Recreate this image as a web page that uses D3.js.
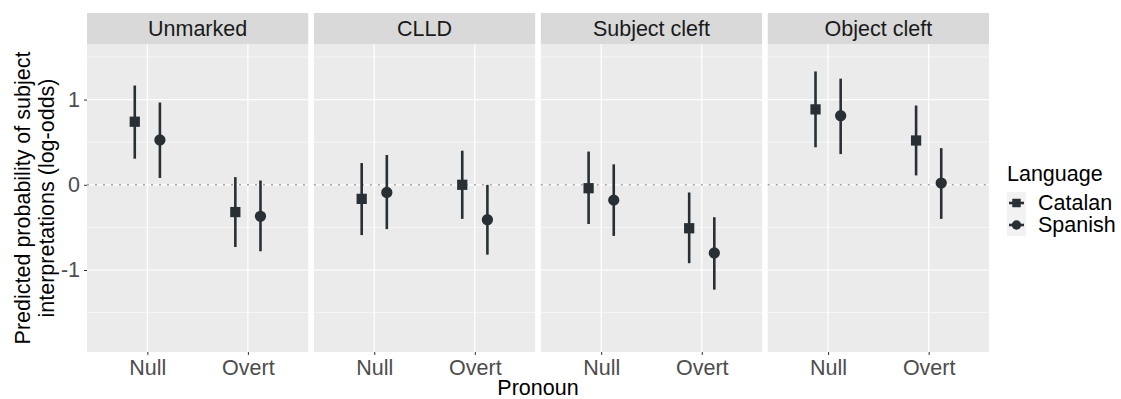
<!DOCTYPE html>
<html>
<head>
<meta charset="utf-8">
<script src="https://cdn.jsdelivr.net/npm/d3@7"></script>
<style>
  html, body { margin: 0; padding: 0; background: #fff; }
  text { font-family: "Liberation Sans", Arial, sans-serif; }
</style>
</head>
<body>
<svg id="chart" width="1121" height="399"></svg>
<script>
// ---- data ----
const facets = ["Unmarked", "CLLD", "Subject cleft", "Object cleft"];
const pronouns = ["Null", "Overt"];
const languages = ["Catalan", "Spanish"];
// values ordered facet by facet, Null then Overt
const catalanEst = [0.74, -0.32, -0.165, 0.0, -0.04, -0.51, 0.885, 0.52];
const catalanLo  = [0.306, -0.73, -0.59, -0.40, -0.46, -0.92, 0.44, 0.11];
const catalanHi  = [1.165, 0.09, 0.255, 0.40, 0.39, -0.09, 1.33, 0.93];
const spanishEst = [0.526, -0.37, -0.09, -0.41, -0.18, -0.80, 0.81, 0.02];
const spanishLo  = [0.08, -0.78, -0.52, -0.82, -0.60, -1.23, 0.36, -0.40];
const spanishHi  = [0.965, 0.05, 0.35, 0.0, 0.24, -0.38, 1.245, 0.43];
const yTicks = [-1, 0, 1];
const yMinor = [-1.5, -0.5, 0.5, 1.5];
const yTitleLines = ["Predicted probability of subject", "interpretations (log-odds)"];
const xTitle = "Pronoun";
const legendTitle = "Language";

const rows = [];
facets.forEach((f, fi) => {
  pronouns.forEach((p, pi) => {
    const i = fi * 2 + pi;
    rows.push({facet: f, pronoun: p, lang: "Catalan", est: catalanEst[i], lo: catalanLo[i], hi: catalanHi[i]});
    rows.push({facet: f, pronoun: p, lang: "Spanish", est: spanishEst[i], lo: spanishLo[i], hi: spanishHi[i]});
  });
});

// ---- layout ----
const svg = d3.select("#chart");
const plotLeft = 87, plotRight = 989;
const panelTop = 44, panelBottom = 352, stripTop = 13;
const fs = 21.5;
const ink = "#283035";

const fx = d3.scaleBand().domain(facets).range([plotLeft, plotRight]).paddingInner(0.025).paddingOuter(0);
const pw = fx.bandwidth();
const xs = d3.scalePoint().domain(pronouns).range([0, pw]).padding(0.6);
const step = xs.step();
const dodge = d3.scalePoint().domain(languages).range([-0.125 * step, 0.125 * step]);
const y = d3.scaleLinear().domain([-1.962, 1.652]).range([panelBottom, panelTop]);

facets.forEach(f => {
  const g = svg.append("g").attr("transform", `translate(${fx(f)},0)`);
  g.append("rect").attr("x", 0).attr("y", panelTop).attr("width", pw).attr("height", panelBottom - panelTop).attr("fill", "#EBEBEB");
  g.selectAll(".ymin").data(yMinor).join("line")
    .attr("x1", 0).attr("x2", pw).attr("y1", d => y(d)).attr("y2", d => y(d))
    .attr("stroke", "#fff").attr("stroke-width", 0.6);
  g.selectAll(".ymaj").data(yTicks).join("line")
    .attr("x1", 0).attr("x2", pw).attr("y1", d => y(d)).attr("y2", d => y(d))
    .attr("stroke", "#fff").attr("stroke-width", 1.2);
  g.selectAll(".xmaj").data(pronouns).join("line")
    .attr("x1", d => xs(d)).attr("x2", d => xs(d)).attr("y1", panelTop).attr("y2", panelBottom)
    .attr("stroke", "#fff").attr("stroke-width", 1.2);
  g.append("rect").attr("x", 0).attr("y", stripTop).attr("width", pw).attr("height", panelTop - stripTop).attr("fill", "#D9D9D9");
  g.append("text").attr("x", pw / 2).attr("y", 36).attr("text-anchor", "middle")
    .attr("font-size", fs).attr("fill", "#1A1A1A").text(f);
  g.append("line").attr("x1", 0).attr("x2", pw).attr("y1", y(0)).attr("y2", y(0))
    .attr("stroke", "#A6A6A6").attr("stroke-width", 1.6).attr("stroke-dasharray", "2 6");
  const xa = g.append("g").attr("transform", `translate(0,${panelBottom})`)
    .call(d3.axisBottom(xs).tickSize(3).tickPadding(4));
  xa.select(".domain").remove();
  xa.selectAll(".tick line").attr("stroke", "#333").attr("stroke-width", 1);
  xa.selectAll(".tick text").attr("font-size", fs).attr("fill", "#4D4D4D")
    .attr("font-family", "Liberation Sans, Arial, sans-serif").attr("dy", "0.76em");
  const data = rows.filter(r => r.facet === f);
  g.selectAll(".err").data(data).join("line")
    .attr("x1", d => xs(d.pronoun) + dodge(d.lang)).attr("x2", d => xs(d.pronoun) + dodge(d.lang))
    .attr("y1", d => y(d.lo)).attr("y2", d => y(d.hi))
    .attr("stroke", ink).attr("stroke-width", 2.6);
  const sq = d3.symbol().type(d3.symbolSquare).size(105);
  const ci = d3.symbol().type(d3.symbolCircle).size(100);
  g.selectAll(".pt").data(data).join("path")
    .attr("transform", d => `translate(${xs(d.pronoun) + dodge(d.lang)},${y(d.est)})`)
    .attr("d", d => d.lang === "Catalan" ? sq() : ci())
    .attr("fill", ink);
});

// y axis
const ya = svg.append("g").attr("transform", `translate(${plotLeft},0)`)
  .call(d3.axisLeft(y).tickValues(yTicks).tickSize(3).tickPadding(4)
    .tickFormat(d => (d < 0 ? "-" : "") + Math.abs(d)));
ya.select(".domain").remove();
ya.selectAll(".tick line").attr("stroke", "#333");
ya.selectAll(".tick text").attr("font-size", fs).attr("fill", "#4D4D4D")
  .attr("font-family", "Liberation Sans, Arial, sans-serif");

// y title
const yt = svg.append("g").attr("transform", `translate(30,${(panelTop + panelBottom) / 2}) rotate(-90)`);
yt.selectAll("text").data(yTitleLines).join("text")
  .attr("x", 0).attr("y", (d, i) => i * 24).attr("text-anchor", "middle")
  .attr("font-size", fs).attr("fill", "#000").text(d => d);

// x title
svg.append("text").attr("x", (plotLeft + plotRight) / 2).attr("y", 395).attr("text-anchor", "middle")
  .attr("font-size", fs).attr("fill", "#000").text(xTitle);

// legend
const lg = svg.append("g").attr("transform", "translate(1007,0)");
lg.append("text").attr("x", 0).attr("y", 181).attr("font-size", fs).attr("fill", "#000").text(legendTitle);
const keyY = d3.scalePoint().domain(languages).range([203, 225]);
languages.forEach(l => {
  const cy = keyY(l);
  lg.append("rect").attr("x", 0).attr("y", cy - 11).attr("width", 19).attr("height", 22).attr("fill", "#F2F2F2");
  lg.append("line").attr("x1", 2).attr("x2", 17).attr("y1", cy).attr("y2", cy).attr("stroke", ink).attr("stroke-width", 2.6);
  lg.append("path").attr("transform", `translate(9.5,${cy})`)
    .attr("d", d3.symbol().type(l === "Catalan" ? d3.symbolSquare : d3.symbolCircle).size(l === "Catalan" ? 72 : 70)())
    .attr("fill", ink);
  lg.append("text").attr("x", 31).attr("y", cy + 7).attr("font-size", fs).attr("fill", "#000").text(l);
});
</script>
</body>
</html>
